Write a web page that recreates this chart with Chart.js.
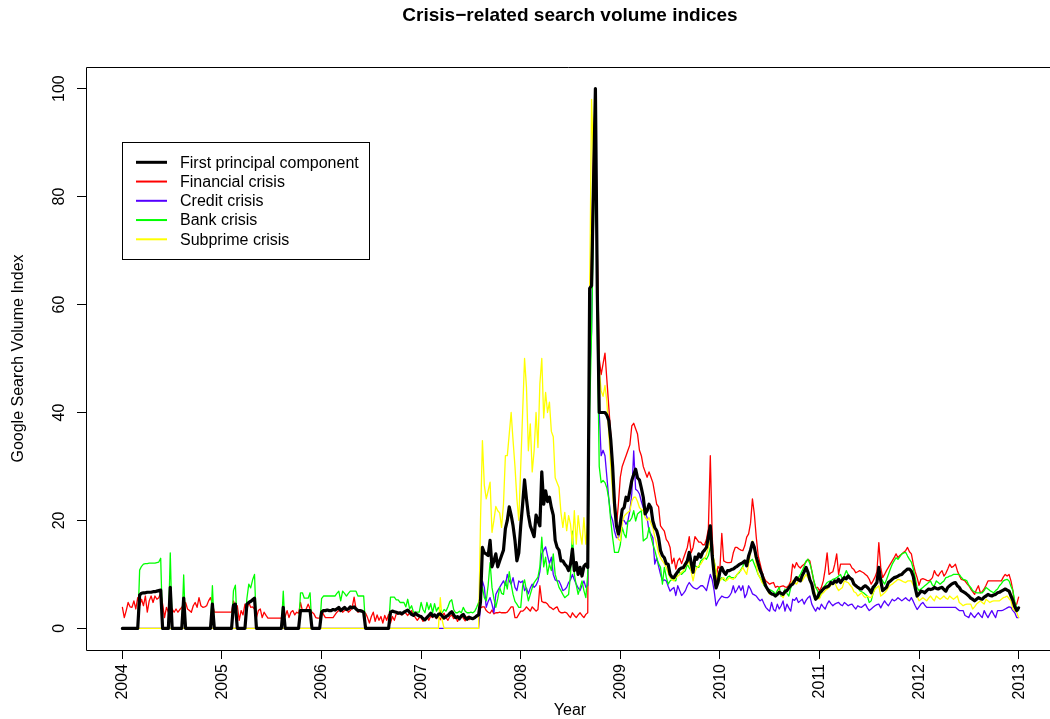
<!DOCTYPE html>
<html>
<head>
<meta charset="utf-8">
<title>Crisis-related search volume indices</title>
<script src="https://cdn.jsdelivr.net/npm/chart.js@4.4.1/dist/chart.umd.min.js"></script>
<style>
  html, body { margin: 0; padding: 0; background: #ffffff; overflow: hidden; }
  #wrap { width: 1050px; height: 719px; position: relative; }
</style>
</head>
<body>
<div id="wrap"><canvas id="chart" width="1050" height="719"></canvas></div>
<script>
// Weekly Google search volume indices, January 2004 to January 2013
const firstYear = 2004;
const weeksPerYear = 52;
const yearTicks = [2004, 2005, 2006, 2007, 2008, 2009, 2010, 2011, 2012, 2013];
const valueTicks = [0, 20, 40, 60, 80, 100];

// First principal component of the four search terms
const pc1 = [
  0,0,0,0,0,0,0,0,0,6.2,6.5,6.6,6.6,6.7,6.7,6.7,6.8,6.8,6.9,7.0,7.1,0,0,0,0,7.6,0,0,0,0,0,0,5.6,0,0,0,0,0,0,0,0,0,0,0,0,0,0,4.5,0,0,0,0,
  0,0,0,0,0,0,4.3,4.5,0,0,0,0,0,4.5,4.8,5.0,5.3,5.6,0,0,0,0,0,0,0,0,0,0,0,0,0,0,3.9,0,0,0,0,0,0,0,0,3.3,3.3,3.3,3.3,3.3,3.3,0,0,0,0,0,
  3.0,3.3,3.3,3.4,3.3,3.3,3.5,3.4,3.6,3.9,3.3,3.6,3.9,3.5,3.6,4.0,3.8,4.0,3.6,3.3,3.3,3.2,3.0,0,0,0,0,0,0,0,0,0,0,0,0,0,3.0,3.2,3.1,3.0,2.8,2.9,2.7,3.0,3.2,3.4,3.0,2.6,2.4,2.8,2.5,2.3,
  2.2,1.8,1.6,2.0,2.4,2.8,2.3,2.5,2.1,2.6,2.7,2.3,1.9,2.2,2.4,2.8,3.1,2.5,2.0,2.2,1.8,2.3,2.6,2.0,1.7,2.1,1.9,1.8,2.0,2.3,2.5,5.0,15,14,13.8,13.5,16.3,11.4,12.5,13.8,11.4,12.5,13.5,14.5,18.5,20,22.5,21,19,16.3,12.5,14,
  19,23,27.5,24,21,19,18,17,21,20,19,29,23,25.5,23.5,24.3,22.4,21,16.3,15,14.5,12.5,12.5,11.9,11.5,10.7,11.9,14.7,10.7,12.2,10.0,11.3,9.7,11.5,11.9,11.3,63,63.5,82,100,62,40,40,40,40,39.5,38.5,35,30,23,19,17.5,
  19.5,22,22.4,24.3,23.7,25.5,27.4,28.5,29.5,27.9,27.5,26,24.3,21.2,21.8,23.0,22.4,19.9,18.7,18.1,16.8,14.4,13.5,13.1,12,11.9,10.0,9.5,9.4,10.0,10.5,11.0,11.2,11.3,11.9,12.5,14.1,12.2,10.4,13.2,12.8,13.8,13.2,14.1,14.5,15.0,17,19,13.5,10,7.5,8.5,
  10.5,11.3,10.5,10.0,10.7,10.7,10.9,11.0,11.3,11.5,11.8,12.0,12.2,12.5,11.6,13.4,14.5,15.9,15.0,13.2,12.0,10.8,10.0,8.8,7.8,7.2,6.7,6.4,6.3,6.0,6.3,6.7,6.5,6.3,6.8,7.0,7.5,8.0,8.2,8.8,9.4,9.0,8.8,9.8,10.5,11.3,10.4,9.0,8.2,6.5,5.4,5.8,
  6.6,6.9,7.3,7.6,7.7,7.9,8.5,8.3,8.8,8.6,9.1,8.5,9.0,9.4,9.2,9.7,9.3,9.1,8.2,7.9,7.6,7.4,7.3,7.7,7.9,7.6,7.2,6.6,7.6,8.0,8.5,11.3,8.8,7.0,7.3,7.6,8.5,8.8,9.1,9.4,9.5,9.7,9.9,10.0,10.4,10.7,11.0,11.0,10.6,9.6,7.5,6.0,
  6.4,6.9,6.8,6.6,7.0,7.3,7.2,7.3,7.6,7.4,7.3,7.5,7.6,7.2,6.9,7.6,7.9,8.2,8.4,8.5,7.9,7.6,7.0,6.8,6.6,6.3,6.0,5.6,5.4,5.1,5.4,5.7,5.5,5.4,5.8,6.0,6.3,6.1,6.0,6.2,6.3,6.6,6.7,6.9,7.1,7.3,7.1,6.9,6.0,5.2,4.0,3.3,
  3.8
];

// "Financial crisis"
const financial = [
  3.9,2.0,3.3,4.8,4.0,3.9,5.1,3.6,5.7,4.2,5.4,4.2,6.0,3.0,5.1,6.0,4.8,6.0,5.4,5.7,6.6,4.5,2.0,3.9,3.0,3.9,3.6,3.0,3.6,3.0,3.5,3.9,4.2,4.8,3.6,3.3,3.0,4.2,4.8,3.9,5.7,4.2,3.9,4.0,4.2,5.1,5.7,4.5,3.0,3.0,3.0,3.0,
  3.0,3.0,3.0,3.0,3.0,3.0,5.1,4.0,4.2,1.5,3.3,2.5,4.5,3.5,4.8,3.9,4.0,3.6,2.0,3.3,3.6,2.0,3.0,2.4,1.9,1.9,1.9,1.9,1.9,1.9,1.9,1.9,3.0,2.2,3.3,2.0,3.0,3.3,2.5,3.0,2.8,4.8,3.3,3.3,3.6,4.5,3.6,3.0,2.7,2.0,1.9,1.9,
  3.3,2.6,2.0,2.0,2.0,2.0,2.0,2.5,3.0,3.3,3.6,3.0,3.3,3.6,3.0,3.3,3.9,5.8,3.6,3.0,3.2,3.3,3.0,2.8,2.0,1.0,2.2,3.0,1.3,2.5,1.5,2.2,1.0,2.4,1.5,2.6,1.0,2.2,1.5,2.7,3.0,2.6,2.5,3.0,2.8,2.4,2.9,3.3,2.6,2.0,1.5,2.0,
  2.0,1.3,1.8,2.2,1.5,2.3,2.0,2.6,1.8,2.3,1.6,2.4,2.8,2.0,1.5,2.2,2.5,1.8,2.2,1.3,2.0,2.5,1.9,1.4,2.2,1.6,2.0,1.7,1.9,2.2,2.4,3.8,4.0,4.0,3.3,3.0,2.8,3.4,2.7,2.9,2.9,3.0,2.9,2.9,2.9,3.0,3.5,4.0,4.0,2.0,2.0,2.6,
  3.2,3.2,3.5,4.0,3.6,3.2,4.0,3.6,3.2,3.5,7.9,5.0,4.8,4.8,4.5,4.0,3.8,3.5,3.8,4.0,3.2,2.9,2.9,3.0,2.9,2.4,2.0,2.9,2.4,2.0,2.5,2.9,2.4,2.0,2.6,2.9,62,70,88,100,70,50,47,49,51,46,41,36,30,24,19,23,
  28,30,31,32,33,34,37.5,38,37,36,33,32,30,29,28,29,28,27,25,23,22.5,19,18.5,18,16.5,16,15,12,13,11,12.5,13,12,13,14,15,17,14,15,17,16.5,16,16,15.5,15.5,16.5,18.5,32,17,10.5,9,11.5,
  11,17.6,12.5,12.3,12.2,12.2,12.3,14.0,15.0,15.0,14.7,14.5,14.4,15.3,16.9,17.5,19.5,24.0,21.2,16.9,13.5,12.0,10.5,9.4,8.8,8.5,8.2,8.4,8.5,7.6,7.8,7.6,7.8,7.9,7.7,7.6,8.0,8.8,11.9,11.2,12.2,11.5,11.2,11.6,11.9,12.3,12.8,12.5,10.6,8.8,7.6,7.6,
  7.0,7.6,8.8,11,14,10.0,10.3,10.5,11.9,13.8,10.0,11.9,11.9,11.9,11.9,11.9,11.9,11.2,10.9,10.3,10.5,10.7,10.5,10.3,10.0,9.7,9.1,8.2,8.8,9.5,10.5,15.9,11.3,9.4,10.0,10.7,11.3,11.9,12.5,13.1,13.8,13.1,13.5,13.8,14.1,14.4,15.0,14.2,13.8,11.9,10.5,9.4,
  8.0,9.1,9.2,9.1,8.9,8.8,9.0,9.4,10.7,10.0,9.7,10.3,10.7,9.7,10.2,11.0,11.9,11.3,11.5,11.9,10.7,9.8,9.1,9.0,8.8,8.3,7.9,7.3,6.8,6.3,7.2,7.9,6.6,6.8,7.3,8.0,8.8,8.8,8.8,8.8,8.8,8.8,8.8,8.8,9.5,10.0,9.7,10.0,8.8,7.0,4.2,4.5,
  5.8
];

// "Credit crisis"
const credit = [
  0,0,0,0,0,0,0,0,0,0,0,0,0,0,0,0,0,0,0,0,0,0,0,0,0,0,0,0,0,0,0,0,0,0,0,0,0,0,0,0,0,0,0,0,0,0,0,0,0,0,0,0,
  0,0,0,0,0,0,0,0,0,0,0,0,0,0,0,0,0,0,0,0,0,0,0,0,0,0,0,0,0,0,0,0,0,0,0,0,0,0,0,0,0,0,0,0,0,0,0,0,0,0,0,0,
  0,0,0,0,0,0,0,0,0,0,0,0,0,0,0,0,0,0,0,0,0,0,0,0,0,0,0,0,0,0,0,0,0,0,0,0,0,0,0,0,0,0,0,0,0,0,0,0,0,0,0,0,
  0,0,0,0,0,0,0,0,0,0,0,0,0,0,0,0,0,0,0,0,0,0,0,0,0,0,0,0,0,0,0,4,8.8,7.6,3.9,5.0,5.7,4.5,2.9,6.3,7.0,7.6,8.2,8.8,8.0,10.0,8.8,8.2,9.4,7.6,7.0,8.8,
  8.5,8.8,7.0,7.5,6.4,7.5,8.2,7.6,8.0,8.8,10.5,13.8,14.5,15.1,13.5,12.0,13.2,10.0,9.0,8.8,8.8,8.0,7.0,7.2,7.6,8.5,9.0,10.0,9.0,8.2,7.5,7.0,8.0,8.8,7.6,8.0,47,55,80,100,60,40,32,33,32,28,24,21,20,18,16.8,16.8,
  18,19.9,20,19.3,20,21.8,25,32.9,25.8,25.5,24.9,23.5,22.4,21.5,20.5,18.0,17.5,16.8,11.9,13.1,11.5,10.0,8.8,9.0,8.8,7.8,6.9,7.3,7.6,6.1,7.9,7.0,6.1,6.5,7.0,7.9,8.5,8.0,7.6,7.4,7.3,7.6,7.9,7.9,7.5,7.0,8.5,10.0,9.0,7.0,4.2,5.0,
  5.5,6.0,5.8,5.7,5.7,6.0,6.6,7.9,6.6,7.2,7.9,7.0,7.9,5.7,6.4,7.9,7.3,6.4,6.2,6.0,5.5,5.1,5.4,4.6,3.9,3.5,3.2,4.8,3.5,3.2,4.5,3.6,4.2,5.1,3.2,4.5,3.8,3.2,5.4,5.2,5.7,4.8,5.1,5.4,4.5,5.2,5.7,6.0,4.5,3.8,3.2,3.9,
  3.5,4.5,4.0,3.6,4.5,5.1,4.6,4.2,4.5,4.7,4.8,4.4,4.2,4.8,4.5,4.2,4.4,4.5,4.0,3.6,4.2,4.0,3.9,4.2,4.5,3.8,3.3,3.6,3.9,4.2,4.4,4.5,3.8,4.5,5.1,4.6,4.2,4.8,5.4,5.1,5.3,5.7,5.4,5.1,5.4,5.7,5.3,5.1,5.7,5.0,4.2,3.5,
  4.0,4.5,4.8,4.3,3.9,3.9,3.9,3.9,3.9,3.9,3.9,3.9,3.9,3.9,3.9,3.9,3.9,3.9,3.9,3.9,3.6,3.3,3.3,3.3,2.4,2.2,2.0,2.9,2.4,2.0,2.5,2.9,2.4,2.0,3.3,2.6,2.0,2.7,3.3,2.6,2.0,3.3,3.3,3.3,3.4,3.6,3.8,4.0,3.9,3.3,2.9,2.0,
  2.0
];

// "Bank crisis"
const bank = [
  0,0,0,0,0,0,0,0,0,10.8,11.5,11.9,12.0,12.0,12.1,12.1,12.1,12.1,12.2,12.3,13.0,0,0,0,0,14.0,0,0,0,0,0,0,9.9,0,0,0,0,0,0,0,0,0,0,0,0,0,0,7.9,0,0,0,0,
  0,0,0,0,0,0,7.0,8.0,0,0,0,0,0,5.5,8.2,7.5,9.0,10.0,0,0,0,0,0,0,0,0,0,0,0,0,0,0,6.9,0,0,0,0,0,0,0,0,6.6,6.6,5.6,5.6,5.6,6.6,0,0,0,0,0,
  5.5,6.0,6.0,6.0,6.0,6.0,6.0,6.0,6.5,6.9,5.1,6.9,6.5,6.0,6.5,6.9,6.9,6.9,6.9,6.0,6.0,6.0,6.0,0,0,0,0,0,0,0,0,0,0,0,0,0,5.8,5.8,5.8,5.3,5.3,4.8,4.8,4.8,4.0,5.4,3.6,4.2,3.0,3.0,3.0,3.0,
  4.8,3.5,2.9,4.8,3.5,4.6,2.9,4.6,3.2,3.9,3.2,2.9,3.5,3.2,4.0,5.0,5.3,3.5,2.9,2.9,3.2,2.9,3.9,3.2,2.9,2.9,3.0,2.9,3.2,3.9,4.8,6.0,7.6,5.7,5.1,8.0,12.2,7.6,5.5,3.9,5.5,7.6,6.5,6.3,8.8,7.3,10.5,8.2,6.3,5.0,4.5,3.9,
  3.9,7.9,9.0,7.0,5.1,6.3,7.5,8.5,9.0,9.5,11.4,16.9,11.4,13.2,10.0,11.9,10.7,13.8,10.0,8.8,7.6,7.0,6.3,5.7,6.0,6.3,10.0,18.0,10.0,8.0,6.3,7.5,8.8,7.0,5.7,10.0,40,55,75,100,55,30,27,27.4,27,26,24,20,16.8,14.1,14.1,14.1,
  15.5,18.7,17.5,16.8,19.9,19.9,20.5,21.8,19.9,21.2,21.5,21.8,16.2,16.5,16.8,18.7,17.0,15.6,14.5,13.1,12.0,11.3,8.2,11.3,9.5,8.2,8.8,9.1,8.9,8.8,10.7,10.3,10.0,10.4,10.7,11.9,11.2,10.7,11.2,11.6,11.4,11.3,12.5,12.8,13.1,12.8,13.5,15.0,13.5,12.5,10.5,8.8,
  9.0,9.4,9.0,8.8,9.5,9.7,9.4,9.4,9.4,10.0,10.3,10.9,11.5,12.5,12.3,12.2,12.5,12.8,11.9,11.0,10.0,9.4,8.8,8.0,7.6,7.3,7.2,7.0,6.8,6.3,7.0,7.6,6.0,6.5,7.3,6.5,6.0,7.5,8.2,8.8,9.0,9.4,10.0,10.7,11.5,12.5,12.8,12.0,10.7,9.0,7.6,7.0,
  5.7,6.5,7.6,8.0,8.5,8.7,8.8,9.1,9.2,9.4,9.7,10.0,9.1,9.8,10.7,10.0,9.4,8.8,8.5,7.8,7.6,7.0,6.8,6.6,6.3,6.0,4.8,5.1,6.5,7.5,8.8,10.7,9.4,8.8,8.2,9.0,10.0,11.0,11.9,12.5,13.1,12.8,13.3,13.8,14.0,14.1,13.4,12.8,12.3,11.0,9.4,7.5,
  7.0,7.3,7.6,7.9,8.2,8.5,8.8,8.0,7.9,8.8,8.5,8.2,8.5,8.8,9.4,9.5,9.7,9.8,10.0,10.0,10.0,10.0,9.5,9.1,9.0,8.8,8.0,7.6,7.0,6.8,6.6,6.6,6.6,6.6,7.0,7.6,7.3,7.0,6.8,6.6,7.0,7.3,7.9,8.3,8.8,9.0,9.1,8.8,7.8,7.0,5.0,3.9,
  3.3
];

// "Subprime crisis"
const subprime = [
  0,0,0,0,0,0,0,0,0,0,0,0,0,0,0,0,0,0,0,0,0,0,0,0,0,0,0,0,0,0,0,0,0,0,0,0,0,0,0,0,0,0,0,0,0,0,0,0,0,0,0,0,
  0,0,0,0,0,0,0,0,0,0,0,0,0,0,0,0,0,0,0,0,0,0,0,0,0,0,0,0,0,0,0,0,0,0,0,0,0,0,0,0,0,0,0,0,0,0,0,0,0,0,0,0,
  0,0,0,0,0,0,0,0,0,0,0,0,0,0,0,0,0,0,0,0,0,0,0,0,0,0,0,0,0,0,0,0,0,0,0,0,0,0,0,0,0,0,0,0,0,0,0,0,0,0,0,0,
  0,0,0,0,0,0,0,0,0,0,5.7,1.5,0,0,0,0,0,0,0,0,0,0,0,0,0,0,0,0,0,0,0,20,34.8,26.5,24.0,25.5,27.1,17.8,20.0,22.6,21.8,21.4,18.7,23.0,32.0,32.0,36.0,40.0,34.8,30,24,20,
  30,40,50,44.7,32.9,37.9,29.0,32.9,40.0,33.5,45.3,50,39.0,43.7,40.0,41.9,36.5,35.5,27.9,27.0,26.1,21.5,18.7,21.5,18.1,20.9,19.3,15.6,21.8,15.6,20.9,17.8,15.6,20.5,15.6,19.6,62,98,86,100,60,48,44,43,45,42,36,30,25,21,18.7,16.5,
  16.2,19.5,20.8,21.2,21.5,21.8,23.5,24.3,24.3,23.5,22.4,22.0,21.8,20.5,20.0,20.5,19.5,18.7,17.0,15.6,14.0,13.1,12.5,12.0,11.3,10.3,9.4,9.0,8.8,9.4,9.7,10.0,10.4,10.7,11.5,11.9,12.5,10.5,8.8,10.5,11.3,11.6,11.9,12.5,13.0,13.7,15.0,16.2,14.4,12.5,10.7,8.5,
  8.8,9.2,9.4,8.8,9.0,9.4,9.2,9.1,9.6,10.0,10.5,10.7,11.3,10.6,10.0,11.9,14.0,16.2,14.5,11.9,10.0,9.4,8.5,8.2,7.6,7.0,6.3,6.3,6.3,6.0,6.5,7.0,6.3,5.7,6.5,7.0,7.8,8.2,8.8,8.5,8.2,8.8,9.4,8.8,9.4,10.0,9.4,8.8,8.0,7.6,6.0,5.5,
  5.5,6.3,6.6,7.0,7.3,7.6,8.0,8.2,8.5,7.6,7.0,7.3,7.6,8.8,8.6,8.5,8.0,7.6,6.8,6.6,6.0,6.3,6.6,6.0,5.7,6.0,5.8,5.7,6.5,7.3,7.6,7.9,6.0,6.3,6.6,7.0,7.6,8.0,8.2,8.5,8.8,9.1,9.0,8.8,8.6,8.5,8.8,8.8,8.8,8.0,7.6,6.0,
  5.1,5.4,5.7,5.4,5.1,5.6,6.0,5.5,5.1,6.0,5.7,5.4,5.7,6.0,5.6,5.4,6.0,5.7,5.4,5.7,6.0,4.8,4.5,4.2,4.4,4.5,4.5,4.5,3.6,4.0,4.5,4.8,5.1,4.8,4.5,5.4,5.1,4.8,5.0,5.1,5.1,5.1,5.1,5.4,5.7,5.8,6.0,5.5,5.1,3.6,3.3,3.0,
  2.0
];

const seriesLabels = ['First principal component', 'Financial crisis', 'Credit crisis', 'Bank crisis', 'Subprime crisis'];
const seriesColors = ['#000000', '#ff0000', '#5500ff', '#00ff00', '#ffff00'];
const seriesValues = [pc1, financial, credit, bank, subprime];

const FONT = '"Liberation Sans", Arial, Helvetica, sans-serif';
const PLOT_LEFT = 86, PLOT_TOP = 67, X_AXIS_HEIGHT = 69;

const toPoints = values => values.map((v, i) => ({ x: firstYear + i / weeksPerYear, y: v }));

// First dataset is painted last: principal component on top, then subprime, bank, credit, financial.
const stackOrder = [0, 4, 3, 2, 1];
const datasets = stackOrder.map(k => ({
  label: seriesLabels[k],
  data: toPoints(seriesValues[k]),
  borderColor: seriesColors[k],
  backgroundColor: seriesColors[k],
  borderWidth: k === 0 ? 3.2 : 1.3,
  pointRadius: 0,
  pointHoverRadius: 0,
  tension: 0,
  fill: false,
  borderJoinStyle: 'round',
  borderCapStyle: 'round'
}));

const decorations = {
  id: 'decorations',
  afterDraw(chart) {
    const { ctx, chartArea: a, scales } = chart;
    const xs = scales.x, ys = scales.y;
    ctx.save();
    ctx.strokeStyle = '#000';
    ctx.lineWidth = 1;
    // plot frame (right edge lies past the canvas)
    ctx.beginPath();
    ctx.moveTo(a.right + 5, a.top + 0.5);
    ctx.lineTo(a.left + 0.5, a.top + 0.5);
    ctx.lineTo(a.left + 0.5, a.bottom + 0.5);
    ctx.lineTo(a.right + 5, a.bottom + 0.5);
    ctx.stroke();

    ctx.fillStyle = '#000';
    ctx.font = '16px ' + FONT;

    // y tick labels, parallel to the axis
    ctx.textAlign = 'center';
    ctx.textBaseline = 'alphabetic';
    valueTicks.forEach(v => {
      const py = ys.getPixelForValue(v);
      ctx.save();
      ctx.translate(a.left - 22.5, py);
      ctx.rotate(-Math.PI / 2);
      ctx.fillText(String(v), 0, 0);
      ctx.restore();
    });

    // x tick labels, perpendicular to the axis
    ctx.textAlign = 'right';
    ctx.textBaseline = 'middle';
    yearTicks.forEach(t => {
      const px = xs.getPixelForValue(t);
      ctx.save();
      ctx.translate(px + 0.5, a.bottom + 14);
      ctx.rotate(-Math.PI / 2);
      ctx.fillText(String(t), 0, 0);
      ctx.restore();
    });

    // axis titles
    const plotCenterX = (a.left + xs.getPixelForValue(2013.355)) / 2;
    ctx.textAlign = 'center';
    ctx.textBaseline = 'middle';
    ctx.fillText('Year', plotCenterX, 711);
    ctx.save();
    ctx.translate(19, (a.top + a.bottom) / 2);
    ctx.rotate(-Math.PI / 2);
    ctx.fillText('Google Search Volume Index', 0, 0);
    ctx.restore();

    // main title
    ctx.font = 'bold 19px ' + FONT;
    ctx.fillText('Crisis\u2212related search volume indices', plotCenterX, 16);

    // legend
    const lx = 122, ly = 142, lw = 247, lh = 117;
    ctx.lineWidth = 1;
    ctx.strokeStyle = '#000';
    ctx.strokeRect(lx + 0.5, ly + 0.5, lw, lh);
    ctx.font = '16px ' + FONT;
    ctx.textAlign = 'left';
    ctx.textBaseline = 'middle';
    seriesLabels.forEach((name, k) => {
      const ry = 162.3 + k * 19.25;
      ctx.beginPath();
      ctx.strokeStyle = seriesColors[k];
      ctx.lineWidth = k === 0 ? 3 : 2;
      ctx.moveTo(136, ry);
      ctx.lineTo(167, ry);
      ctx.stroke();
      ctx.fillStyle = '#000';
      ctx.fillText(name, 180, ry + 1);
    });
    ctx.restore();
  }
};

new Chart(document.getElementById('chart'), {
  type: 'line',
  data: { datasets },
  options: {
    responsive: false,
    animation: false,
    devicePixelRatio: 1,
    parsing: false,
    normalized: true,
    layout: { padding: { top: PLOT_TOP, right: 0, left: 0, bottom: 0 } },
    plugins: { legend: { display: false }, title: { display: false }, tooltip: { enabled: false } },
    events: [],
    scales: {
      x: {
        type: 'linear',
        min: 2003.6345,
        max: 2013.3151,
        afterBuildTicks: s => { s.ticks = yearTicks.map(v => ({ value: v })); },
        afterFit: s => { s.height = X_AXIS_HEIGHT; },
        grid: { drawOnChartArea: false, drawTicks: true, tickLength: 9, color: '#000', lineWidth: 1 },
        border: { display: false },
        ticks: { display: false }
      },
      y: {
        type: 'linear',
        min: -4,
        max: 104,
        afterBuildTicks: s => { s.ticks = valueTicks.map(v => ({ value: v })); },
        afterFit: s => { s.width = PLOT_LEFT; },
        grid: { drawOnChartArea: false, drawTicks: true, tickLength: 9, color: '#000', lineWidth: 1 },
        border: { display: false },
        ticks: { display: false }
      }
    }
  },
  plugins: [decorations]
});
</script>
</body>
</html>
